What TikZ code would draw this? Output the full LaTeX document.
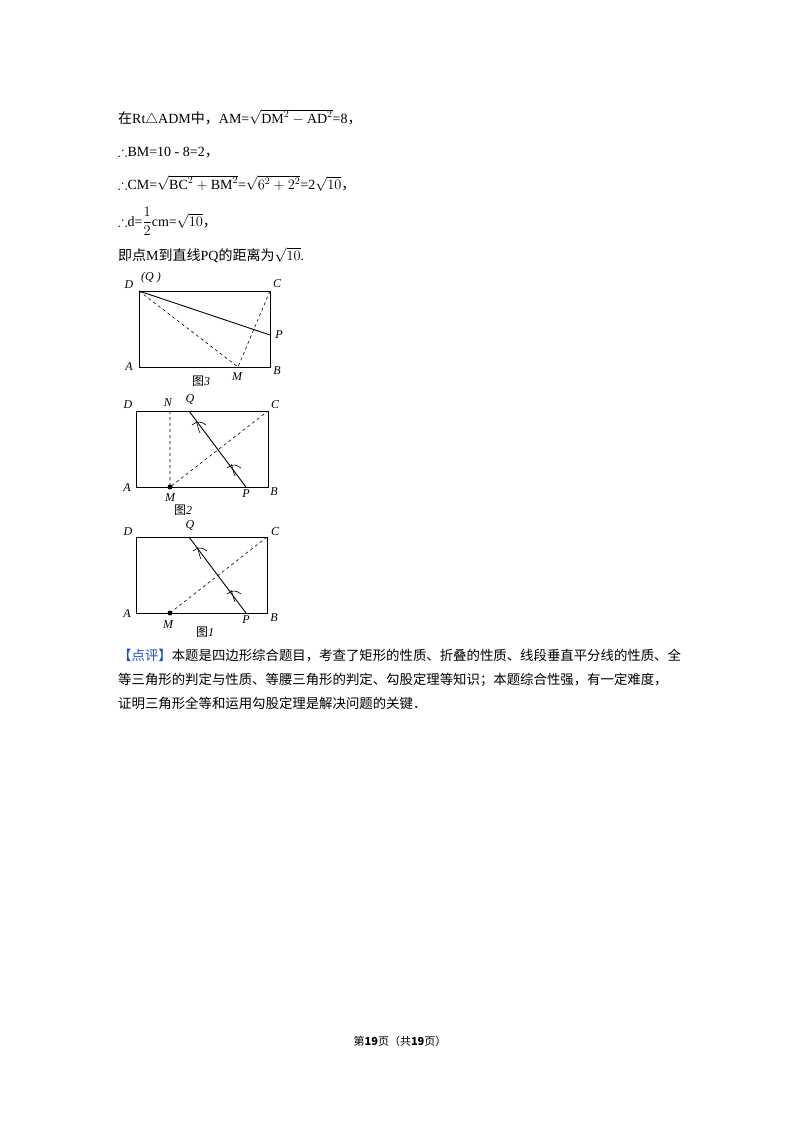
\documentclass[tikz,border=0pt]{standalone}
\usepackage{fontspec}
\setmainfont{Liberation Serif}
\newfontfamily\zhf{Noto Sans CJK SC}
\newcommand{\zh}[1]{{\zhf #1}}
\usepackage{amsmath,amssymb}
\begin{document}
\begin{tikzpicture}[x=1pt,y=-1pt,
  txt/.style={anchor=base west,inner sep=0pt,font=\fontsize{14}{16}\selectfont},
  ptxt/.style={anchor=base west,inner sep=0pt,font=\fontsize{13.4}{15}\selectfont},
  lab/.style={inner sep=0pt,font=\fontsize{12}{13}\selectfont\itshape},
  dsh/.style={dashed,line width=0.6pt},
  sol/.style={line width=0.9pt},
  box/.style={line width=1pt}]
\useasboundingbox (0,0) rectangle (800,1132);
\fill[white] (0,0) rectangle (800,1132);
% text
\node[txt] (t1) at (118,123) {\zh{在}Rt$\triangle$ADM\zh{中，}AM=$\sqrt{\mathrm{DM}^2-\mathrm{AD}^2}$=8\zh{，}};
\node[txt] (t2) at (118,156) {$\therefore$BM=10 - 8=2\zh{，}};
\node[txt] (t3) at (118,189) {$\therefore$CM=$\sqrt{\mathrm{BC}^2+\mathrm{BM}^2}$=$\sqrt{6^2+2^2}$=2$\sqrt{10}$\zh{，}};
\node[txt] (t4) at (118,226) {$\therefore$d=$\dfrac{1}{2}$cm=$\sqrt{10}$\zh{，}};
\node[txt] (t5) at (118,260) {\zh{即点}M\zh{到直线}PQ\zh{的距离为}$\sqrt{10}$.};
% fig3
\coordinate (D3) at (139,291); \coordinate (C3) at (270,291);
\coordinate (B3) at (270,367); \coordinate (A3) at (139,367);
\coordinate (P3) at (270,335); \coordinate (M3) at (238,367);
\draw[box] (A3) rectangle (C3);
\draw[sol] (D3) -- (P3);
\draw[dsh] (D3) -- (M3) -- (C3);
\node[lab] (lD3) at (129,285) {D};
\node[lab] (lQ3) at (151,278) {(Q )};
\node[lab] (lC3) at (277,284) {C};
\node[lab] (lP3) at (279,335) {P};
\node[lab] (lA3) at (129,367) {A};
\node[lab] (lM3) at (237,377) {M};
\node[lab] (lB3) at (277,371) {B};
\node[lab] (f3) at (201,381) {\zh{图}3};
% fig2
\coordinate (D2) at (136,411); \coordinate (C2) at (268,411);
\coordinate (B2) at (268,487); \coordinate (A2) at (136,487);
\coordinate (N2) at (170,411); \coordinate (M2) at (170,487);
\coordinate (Q2) at (189,411); \coordinate (P2) at (246,487);
\draw[box] (A2) rectangle (C2);
\draw[sol] (Q2) -- (P2);
\draw[dsh] (N2) -- (M2) -- (C2);
\fill (M2) circle (2.5);
\foreach \p in {(199,427),(234,470)}{
  \draw[line width=0.6pt] \p ++(-7,-2) .. controls +(5,-4) and +(-5,-4) .. +(14,0);
  \draw[line width=0.6pt] \p ++(-3,-6) .. controls +(2,4) and +(-2,-4) .. +(4,12);
}
\node[lab] (lD2) at (128,405) {D};
\node[lab] (lN2) at (168,403) {N};
\node[lab] (lQ2) at (190,399) {Q};
\node[lab] (lC2) at (275,405) {C};
\node[lab] (lA2) at (127,488) {A};
\node[lab] (lM2) at (170,498) {M};
\node[lab] (lP2) at (246,494) {P};
\node[lab] (lB2) at (274,492) {B};
\node[lab] (f2) at (183,510) {\zh{图}2};
% fig1
\coordinate (D1) at (136,537); \coordinate (C1) at (267,537);
\coordinate (B1) at (267,613); \coordinate (A1) at (136,613);
\coordinate (M1) at (170,613);
\coordinate (Q1) at (189,537); \coordinate (P1) at (246,613);
\draw[box] (A1) rectangle (C1);
\draw[sol] (Q1) -- (P1);
\draw[dsh] (M1) -- (C1);
\fill (M1) circle (2.5);
\foreach \p in {(200,553),(234,596)}{
  \draw[line width=0.6pt] \p ++(-7,-2) .. controls +(5,-4) and +(-5,-4) .. +(14,0);
  \draw[line width=0.6pt] \p ++(-3,-6) .. controls +(2,4) and +(-2,-4) .. +(4,12);
}
\node[lab] (lD1) at (128,532) {D};
\node[lab] (lQ1) at (190,525) {Q};
\node[lab] (lC1) at (275,532) {C};
\node[lab] (lA1) at (127,614) {A};
\node[lab] (lM1) at (168,625) {M};
\node[lab] (lP1) at (246,620) {P};
\node[lab] (lB1) at (274,618) {B};
\node[lab] (f1) at (205,632) {\zh{图}1};
% paragraph
\node[ptxt] (p1) at (118,660) {\zh{\textcolor[rgb]{0.1,0.3,0.8}{【点评】}本题是四边形综合题目，考查了矩形的性质、折叠的性质、线段垂直平分线的性质、全}};
\node[ptxt] (p2) at (118,684) {\zh{等三角形的判定与性质、等腰三角形的判定、勾股定理等知识；本题综合性强，有一定难度，}};
\node[ptxt] (p3) at (118,708) {\zh{证明三角形全等和运用勾股定理是解决问题的关键．}};
% footer
\node[inner sep=0pt,font=\fontsize{11}{13}\selectfont] (ft) at (400,1041) {\zh{第\textbf{19}页（共\textbf{19}页）}};
\end{tikzpicture}
\end{document}
